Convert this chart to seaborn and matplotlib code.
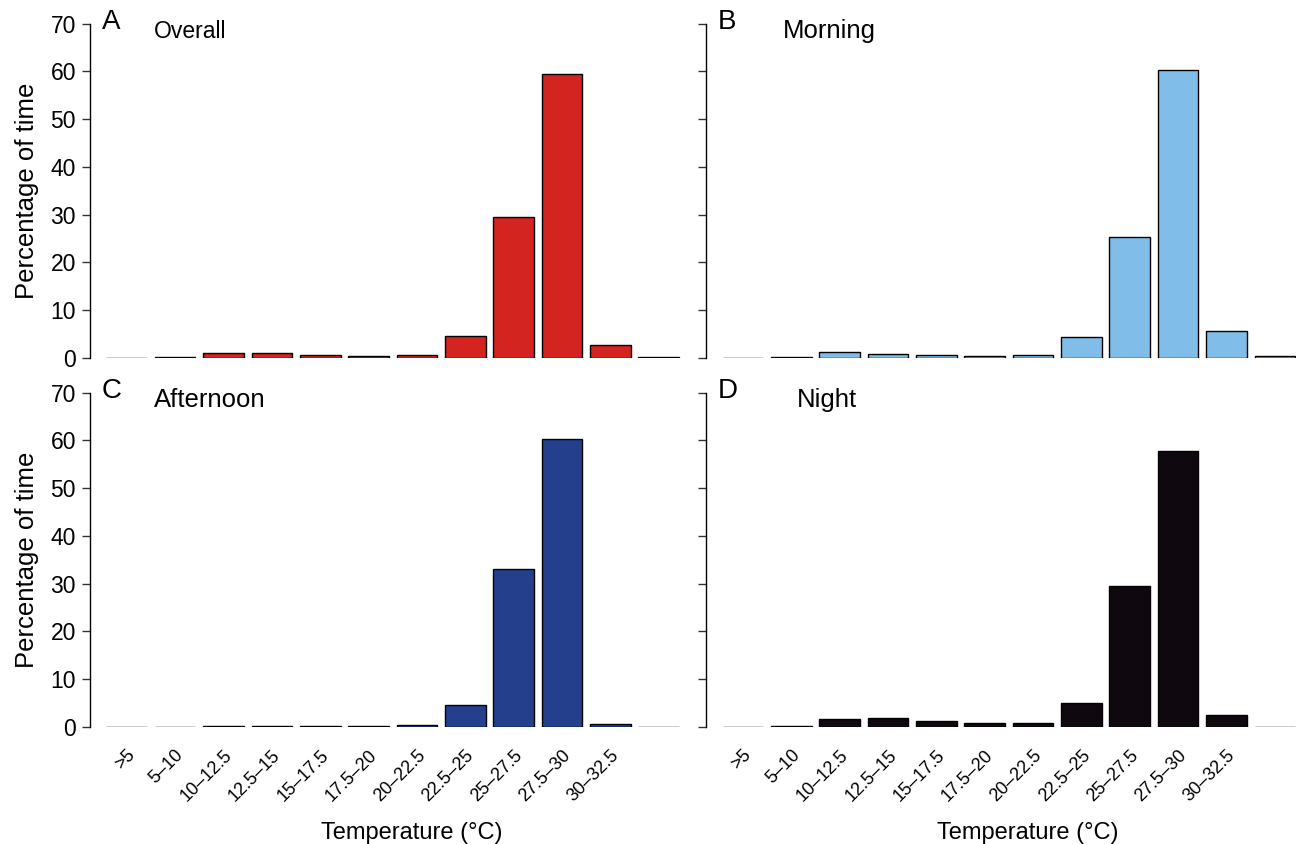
import pandas as pd
import matplotlib.pyplot as plt
import seaborn as sns

# temperature bins (last bin is unlabelled in the original figure)
bins = [">5", "5–10", "10–12.5", "12.5–15", "15–17.5", "17.5–20",
        "20–22.5", "22.5–25", "25–27.5", "27.5–30", "30–32.5", ">32.5"]
tick_labels = bins[:-1] + [""]

overall = [0.1, 0.2, 1.0, 1.0, 0.6, 0.5, 0.55, 4.6, 29.5, 59.4, 2.8, 0.2]
morning = [0.1, 0.2, 1.25, 0.85, 0.65, 0.5, 0.55, 4.5, 25.4, 60.3, 5.6, 0.35]
afternoon = [0.05, 0.05, 0.15, 0.3, 0.25, 0.25, 0.45, 4.6, 33.1, 60.3, 0.65, 0.05]
night = [0.1, 0.25, 1.7, 1.8, 1.25, 0.85, 0.75, 5.1, 29.6, 57.7, 2.45, 0.1]

panels = [
    ("A", "Overall", overall, "#d42420", 0.108, 16.5),
    ("B", "Morning", morning, "#80bde8", 0.130, 18.5),
    ("C", "Afternoon", afternoon, "#243f8c", 0.108, 18.5),
    ("D", "Night", night, "#0f080f", 0.153, 18.5),
]

sns.set_style("white")
plt.rcParams['font.family'] = ['Liberation Sans', 'DejaVu Sans']
plt.rcParams['text.color'] = 'black'
plt.rcParams['axes.labelcolor'] = 'black'
plt.rcParams['xtick.color'] = 'black'
plt.rcParams['ytick.color'] = 'black'

fig = plt.figure(figsize=(12.96, 8.44), dpi=100)
lefts = [0.0694, 0.5448]
bottoms = [0.5758, 0.1386]
w, h = 0.4576, 0.3963

for i, (letter, title, vals, col, tx, tsize) in enumerate(panels):
    row, c = divmod(i, 2)
    ax = fig.add_axes([lefts[c], bottoms[row], w, h])
    df = pd.DataFrame({"bin": bins, "pct": vals})
    sns.barplot(data=df, x="bin", y="pct", order=bins, color=col,
                saturation=1, edgecolor="black", linewidth=1, width=0.84, ax=ax)
    ax.set_xlim(-0.76, 11.5)
    ax.set_ylim(0, 70)
    ax.set_yticks(range(0, 71, 10))
    for s in ["top", "right", "bottom"]:
        ax.spines[s].set_visible(False)
    ax.spines["left"].set_color("black")
    ax.spines["left"].set_linewidth(1)
    ax.tick_params(axis="y", left=True, direction="out", length=6, width=1,
                   color="#333333", labelsize=16.5, pad=4)
    ax.tick_params(axis="x", bottom=False, length=0)
    ax.set_ylabel("")
    ax.set_xlabel("")
    if c == 1:
        ax.set_yticklabels([])
    else:
        ax.set_ylabel("Percentage of time", fontsize=18.5, labelpad=8)
    if row == 1:
        ax.set_xticks(range(len(bins)))
        ax.set_xticklabels(tick_labels, rotation=45, ha="right",
                           rotation_mode="anchor", fontsize=13)
        ax.tick_params(axis="x", pad=14)
        ax.set_xlabel("Temperature (°C)", fontsize=17)
        ax.xaxis.set_label_coords(0.543, -0.285)
    else:
        ax.set_xticks([])
    ax.text(0.02, 70.3, letter, fontsize=20, va="center", ha="left",
            transform=ax.get_yaxis_transform())
    ax.text(tx, 68.4, title, fontsize=tsize, va="center", ha="left",
            transform=ax.get_yaxis_transform())

fig.savefig("out.png", dpi=100)
